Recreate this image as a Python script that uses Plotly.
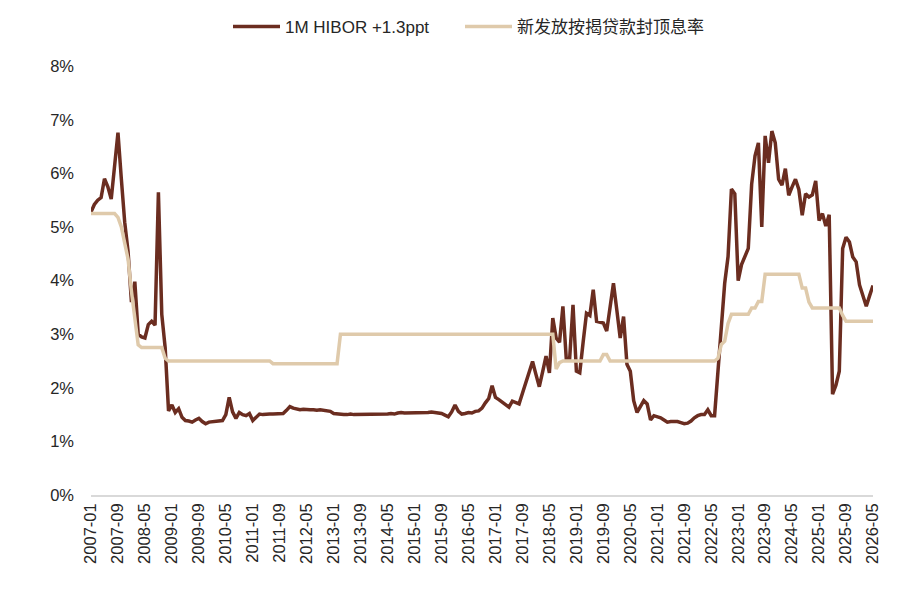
import plotly.graph_objects as go

# Monthly category labels 2007-01 .. 2026-05
months = [f"{y}-{m:02d}" for y in range(2007, 2027) for m in range(1, 13)][:233]
tick_labels = months[::8]

hibor = [
    # 2007
    5.28, 5.42, 5.50, 5.55, 5.90, 5.75, 5.52, 6.20, 6.76, 5.90, 5.09, 4.54,
    # 2008
    3.60, 3.98, 3.00, 2.95, 2.93, 3.18, 3.24, 3.17, 5.65, 3.37, 2.75, 1.57,
    # 2009
    1.68, 1.54, 1.61, 1.45, 1.39, 1.38, 1.36, 1.40, 1.43, 1.37, 1.33, 1.36,
    # 2010
    1.37, 1.37, 1.38, 1.39, 1.50, 1.82, 1.55, 1.43, 1.54, 1.50, 1.48, 1.52,
    # 2011
    1.39, 1.45, 1.51, 1.50, 1.51, 1.51, 1.51, 1.51, 1.51, 1.52, 1.58, 1.65,
    # 2012
    1.62, 1.60, 1.59, 1.60, 1.59, 1.59, 1.59, 1.58, 1.59, 1.58, 1.57, 1.56,
    # 2013
    1.52, 1.51, 1.50, 1.50, 1.50, 1.51, 1.50, 1.50, 1.51, 1.50, 1.50, 1.51,
    # 2014
    1.50, 1.51, 1.50, 1.51, 1.51, 1.52, 1.51, 1.53, 1.54, 1.53, 1.53, 1.54,
    # 2015
    1.53, 1.54, 1.53, 1.54, 1.54, 1.55, 1.54, 1.54, 1.52, 1.49, 1.46, 1.55,
    # 2016
    1.68, 1.56, 1.51, 1.52, 1.54, 1.53, 1.56, 1.57, 1.62, 1.72, 1.80, 2.04,
    # 2017
    1.82, 1.78, 1.73, 1.68, 1.64, 1.75, 1.73, 1.70, 1.90, 2.10, 2.30, 2.49,
    # 2018
    2.25, 2.02, 2.30, 2.59, 2.28, 3.30, 2.93, 2.85, 3.52, 2.54, 2.54, 3.55,
    # 2019
    2.31, 2.28, 2.85, 3.39, 3.35, 3.83, 3.24, 3.22, 3.21, 3.06, 3.50, 3.95,
    # 2020
    3.45, 2.93, 3.33, 2.44, 2.31, 1.76, 1.54, 1.65, 1.76, 1.70, 1.40, 1.48,
    # 2021
    1.46, 1.44, 1.40, 1.36, 1.37, 1.37, 1.37, 1.35, 1.33, 1.34, 1.38, 1.44,
    # 2022
    1.48, 1.50, 1.50, 1.59, 1.48, 1.48, 2.25, 3.10, 3.95, 4.45, 5.71, 5.62,
    # 2023
    4.00, 4.30, 4.45, 4.60, 5.80, 6.33, 6.57, 5.00, 6.70, 6.20, 6.79, 6.57,
    # 2024
    5.89, 5.78, 6.09, 5.59, 5.75, 5.89, 5.70, 5.22, 5.62, 5.56, 5.60, 5.86,
    # 2025
    5.12, 5.25, 5.02, 5.23, 1.88, 2.05, 2.31, 4.60, 4.81, 4.72, 4.44, 4.35,
    # 2026
    3.92, 3.72, 3.52, 3.72, 3.91,
]

cap_rate = [
    # 2007
    5.25, 5.25, 5.25, 5.25, 5.25, 5.25, 5.25, 5.25, 5.18, 5.00, 4.70, 4.40,
    # 2008
    3.80, 3.30, 2.80, 2.75, 2.75, 2.75, 2.75, 2.75, 2.75, 2.75, 2.55, 2.50,
    # 2009
    2.50, 2.50, 2.50, 2.50, 2.50, 2.50, 2.50, 2.50, 2.50, 2.50, 2.50, 2.50,
    # 2010
    2.50, 2.50, 2.50, 2.50, 2.50, 2.50, 2.50, 2.50, 2.50, 2.50, 2.50, 2.50,
    # 2011
    2.50, 2.50, 2.50, 2.50, 2.50, 2.50, 2.45, 2.45, 2.45, 2.45, 2.45, 2.45,
    # 2012
    2.45, 2.45, 2.45, 2.45, 2.45, 2.45, 2.45, 2.45, 2.45, 2.45, 2.45, 2.45,
    # 2013
    2.45, 2.45, 3.00, 3.00, 3.00, 3.00, 3.00, 3.00, 3.00, 3.00, 3.00, 3.00,
    # 2014
    3.00, 3.00, 3.00, 3.00, 3.00, 3.00, 3.00, 3.00, 3.00, 3.00, 3.00, 3.00,
    # 2015
    3.00, 3.00, 3.00, 3.00, 3.00, 3.00, 3.00, 3.00, 3.00, 3.00, 3.00, 3.00,
    # 2016
    3.00, 3.00, 3.00, 3.00, 3.00, 3.00, 3.00, 3.00, 3.00, 3.00, 3.00, 3.00,
    # 2017
    3.00, 3.00, 3.00, 3.00, 3.00, 3.00, 3.00, 3.00, 3.00, 3.00, 3.00, 3.00,
    # 2018
    3.00, 3.00, 3.00, 3.00, 3.00, 3.00, 2.35, 2.47, 2.50, 2.50, 2.50, 2.50,
    # 2019
    2.50, 2.50, 2.50, 2.50, 2.50, 2.50, 2.50, 2.50, 2.62, 2.62, 2.50, 2.50,
    # 2020
    2.50, 2.50, 2.50, 2.50, 2.50, 2.50, 2.50, 2.50, 2.50, 2.50, 2.50, 2.50,
    # 2021
    2.50, 2.50, 2.50, 2.50, 2.50, 2.50, 2.50, 2.50, 2.50, 2.50, 2.50, 2.50,
    # 2022
    2.50, 2.50, 2.50, 2.50, 2.50, 2.50, 2.55, 2.81, 2.87, 3.20, 3.37, 3.37,
    # 2023
    3.37, 3.37, 3.37, 3.37, 3.49, 3.49, 3.61, 3.61, 4.12, 4.12, 4.12, 4.12,
    # 2024
    4.12, 4.12, 4.12, 4.12, 4.12, 4.12, 4.12, 3.86, 3.86, 3.60, 3.49, 3.49,
    # 2025
    3.49, 3.49, 3.49, 3.49, 3.49, 3.49, 3.49, 3.35, 3.24, 3.24, 3.24, 3.24,
    # 2026
    3.24, 3.24, 3.24, 3.24, 3.24,
]

series_names = ["1M HIBOR +1.3ppt", "新发放按揭贷款封顶息率"]
colors = ["#6b2d20", "#dfcaab"]

fig = go.Figure()
fig.add_trace(go.Scatter(x=months[:len(hibor)], y=hibor, mode="lines", name=series_names[0],
                         line=dict(color=colors[0], width=3.5), legendwidth=170))
fig.add_trace(go.Scatter(x=months[:len(cap_rate)], y=cap_rate, mode="lines", name=series_names[1],
                         line=dict(color=colors[1], width=3.5), legendwidth=210))

fig.update_layout(
    width=907, height=592,
    margin=dict(l=83, r=42, t=55, b=105),
    paper_bgcolor="white", plot_bgcolor="white",
    font=dict(family="Liberation Sans, Arial, Noto Sans CJK SC", size=16.5, color="#262626"),
    showlegend=True,
    legend=dict(orientation="h", xref="container", yref="container",
                x=220 / 907, xanchor="left", y=1 - 19 / 592, yanchor="middle",
                font=dict(size=17), traceorder="normal", itemwidth=47),
    xaxis=dict(type="category", categoryorder="array", categoryarray=months,
               range=[0, len(months) - 1], tickmode="array", tickvals=tick_labels,
               ticktext=tick_labels, tickangle=-90, showgrid=False, zeroline=False,
               showline=True, linecolor="#d9d9d9", linewidth=1.5, ticks="",
               tickfont=dict(size=16.5)),
    yaxis=dict(range=[0, 8], dtick=1, ticksuffix="%", showgrid=False, zeroline=False,
               showline=False, ticks="", tickfont=dict(size=16.5), ticklabelstandoff=16),
)

fig.write_html("out.html")
